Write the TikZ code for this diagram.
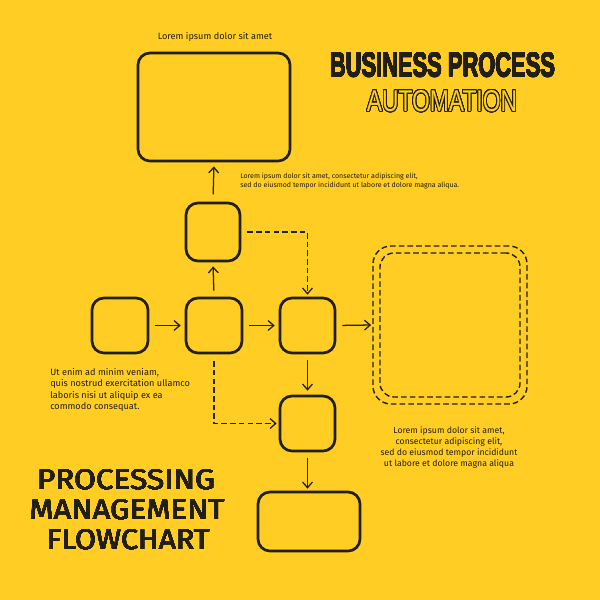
\documentclass[tikz,border=0pt]{standalone}
\usepackage{fontspec}
\setmainfont{Fira Sans}
\newfontfamily\headfont{Liberation Sans}
\usepackage{contour}
\contourlength{0.35pt}
\contournumber{32}
\usetikzlibrary{arrows.meta}
\definecolor{bg}{HTML}{FFCD23}
\definecolor{ink}{HTML}{221E18}
\begin{document}
\begin{tikzpicture}[x=0.025cm,y=-0.025cm,
  box/.style={draw=ink,line width=1.9pt,rounded corners=0.3cm,inner sep=0pt},
  arr/.style={draw=ink,line width=0.9pt,-{Straight Barb[length=4pt,width=7pt]}},
  dsh/.style={arr,dash pattern=on 4pt off 2.2pt},
  dbox/.style={draw=ink,line width=1pt,dash pattern=on 4pt off 2.2pt,rounded corners=0.45cm,inner sep=0pt},
  txt/.style={text=ink,inner sep=0pt}]
\fill[bg] (0,0) rectangle (600,600);
\useasboundingbox (0,0) rectangle (600,600);
% boxes
\node[box,minimum width=3.8cm,minimum height=2.7cm] (top) at (214,107) {};
\node[box,minimum width=1.35cm,minimum height=1.45cm] (A) at (213,232) {};
\node[box,minimum width=1.4cm,minimum height=1.375cm] (L) at (120,325.5) {};
\node[box,minimum width=1.4cm,minimum height=1.375cm] (C) at (214,325.5) {};
\node[box,minimum width=1.375cm,minimum height=1.375cm] (R) at (307.5,325.5) {};
\node[box,minimum width=1.375cm,minimum height=1.375cm] (D) at (307.5,423.5) {};
\node[box,minimum width=2.55cm,minimum height=1.475cm] (B) at (309,521.5) {};
\node[dbox,minimum width=3.85cm,minimum height=3.95cm] (outer) at (450,325) {};
\node[dbox,minimum width=3.5cm,minimum height=3.6cm,rounded corners=0.35cm] (inner) at (450,325) {};
% connectors
\draw[arr,shorten <=0.15cm,shorten >=0.1cm] (C.north) -- (A.south);
\draw[arr,shorten <=0.18cm,shorten >=0.1cm] (A.north) -- (top.south);
\draw[arr,shorten <=0.15cm,shorten >=0.1cm] (L.east) -- (C.west);
\draw[arr,shorten <=0.15cm,shorten >=0.1cm] (C.east) -- (R.west);
\draw[arr,shorten <=0.15cm,shorten >=0.03cm] (R.east) -- (outer.west);
\draw[arr,shorten <=0.15cm,shorten >=0.1cm] (R.south) -- (D.north);
\draw[arr,shorten <=0.15cm,shorten >=0.05cm] (D.south) -- (D.south |- B.north);
\draw[dsh,shorten <=0.15cm,shorten >=0.05cm] (A.east) -- (R.north |- A.east) -- (R.north);
\draw[dsh,shorten <=0.17cm,shorten >=0.05cm] (C.south) -- (C.south |- D.west) -- (D.west);
% texts
\node[txt,font=\fontsize{6.5}{8}\selectfont] (t1) at (215,37) {Lorem ipsum dolor sit amet};
\node[txt,anchor=west,align=left,font=\fontsize{5.0}{6.4}\selectfont] (t2) at (240,181.5)
  {Lorem ipsum dolor sit amet, consectetur adipiscing elit,\\sed do eiusmod tempor incididunt ut labore et dolore magna aliqua.};
\node[txt,anchor=west,align=left,font=\fontsize{6.5}{8}\selectfont] (t3) at (50,390)
  {Ut enim ad minim veniam,\\quis nostrud exercitation ullamco\\laboris nisi ut aliquip ex ea\\commodo consequat.};
\node[txt,align=center,font=\fontsize{6.2}{7.8}\selectfont] (t4) at (449,447.5)
  {Lorem ipsum dolor sit amet,\\consectetur adipiscing elit,\\sed do eiusmod tempor incididunt\\ut labore et dolore magna aliqua};
% headings
\node[txt] (h1) at (442.5,65) {\resizebox{5.625cm}{0.6cm}{\headfont\bfseries\contourlength{0.1pt}\contour{ink}{BUSINESS PROCESS}}};
\node[txt] (h2) at (442,101.5) {\resizebox{3.75cm}{0.525cm}{\headfont\contour{ink}{\textcolor{bg}{AUTOMATION}}}};
\contourlength{0.07pt}
\node[txt] (p1) at (126,480) {\resizebox{4.45cm}{0.5cm}{\contour{ink}{PROCESSING}}};
\node[txt] (p2) at (127,510) {\resizebox{4.875cm}{0.5cm}{\contour{ink}{MANAGEMENT}}};
\node[txt] (p3) at (128,540) {\resizebox{4.075cm}{0.5cm}{\contour{ink}{FLOWCHART}}};
\end{tikzpicture}
\end{document}
